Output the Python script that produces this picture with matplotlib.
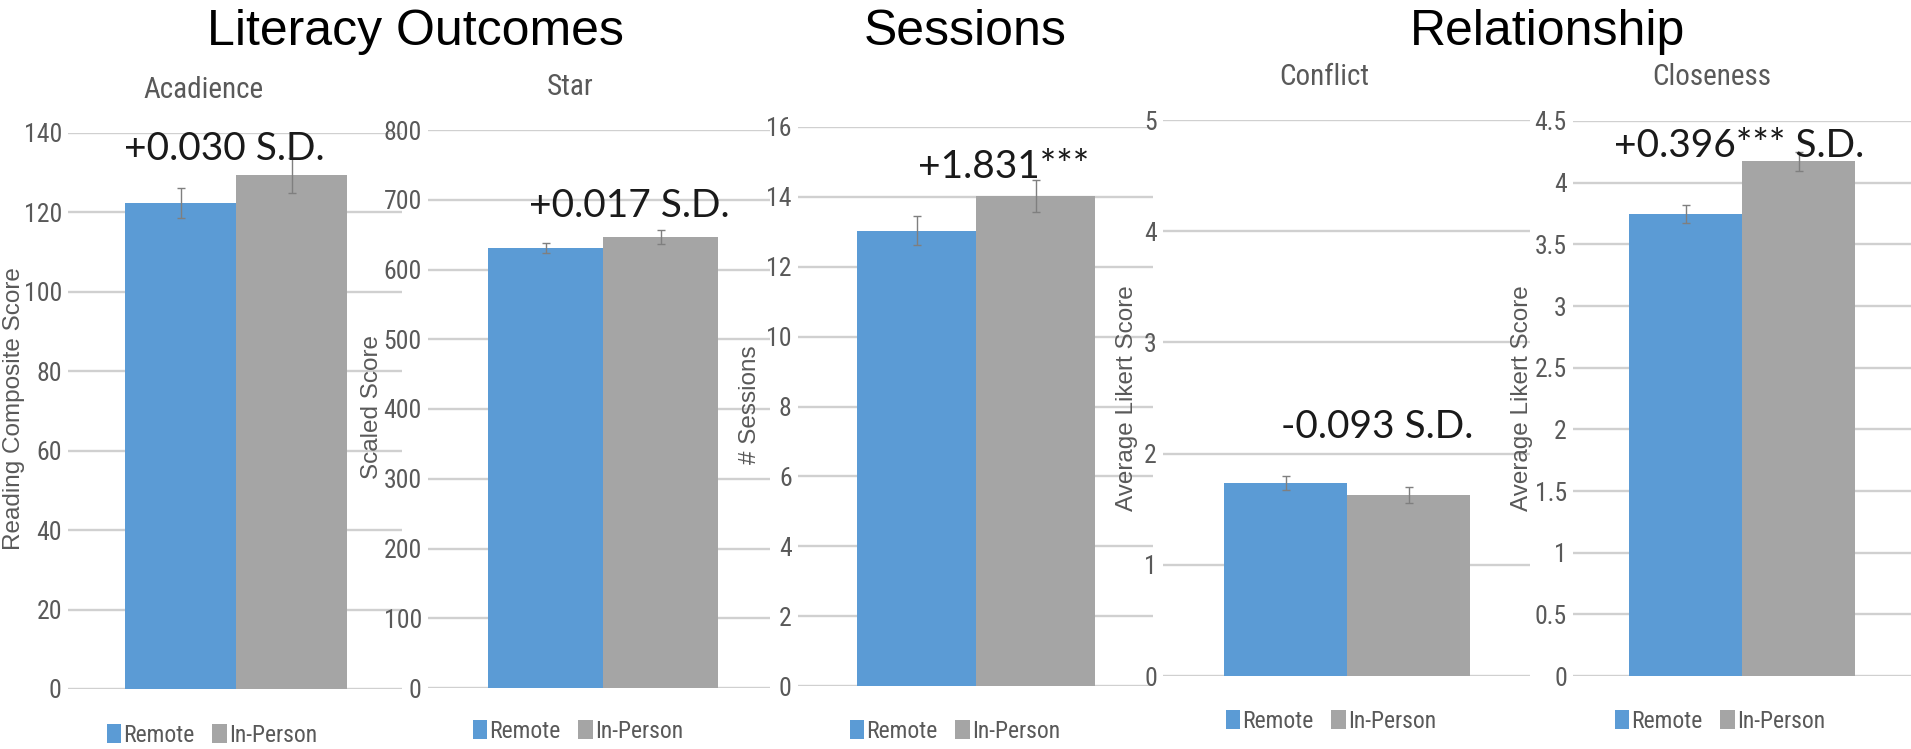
import matplotlib
matplotlib.use("Agg")
import matplotlib.pyplot as plt
from matplotlib.patches import Patch
from matplotlib.ticker import MultipleLocator, FuncFormatter
from matplotlib import font_manager as fm

# ---------------- data ----------------
groups = ["Remote", "In-Person"]
colors = ["#5B9BD5", "#A5A5A5"]

chart_titles = ["Acadience", "Star", "", "Conflict", "Closeness"]
y_labels = ["Reading Composite Score", "Scaled Score", "# Sessions",
            "Average Likert Score", "Average Likert Score"]
effects = ["+0.030 S.D.", "+0.017 S.D.", "+1.831***", "-0.093 S.D.", "+0.396*** S.D."]

acadience_means = [122.3, 129.3]
acadience_err = [3.75, 4.3]
star_means = [630.5, 646.5]
star_err = [7.5, 9.5]
sessions_means = [13.03, 14.03]
sessions_err = [0.42, 0.45]
conflict_means = [1.736, 1.628]
conflict_err = [0.065, 0.07]
closeness_means = [3.744, 4.173]
closeness_err = [0.075, 0.075]

y_max = [140, 800, 16, 5, 4.5]
y_step = [20, 100, 2, 1, 0.5]

section_headers = ["Literacy Outcomes", "Sessions", "Relationship"]

# ---------------- fonts ----------------
available = {f.name for f in fm.fontManager.ttflist}
condensed_candidates = ["Liberation Sans Narrow", "Roboto Condensed",
                        "DejaVu Sans Condensed", "Open Sans Condensed",
                        "Noto Sans Condensed", "Arial Narrow"]
NARROW_NAME = next((n for n in condensed_candidates if n in available), None)
if NARROW_NAME is None:
    NARROW = ["Liberation Sans", "DejaVu Sans"]
    narrow_scale = 0.86
else:
    NARROW = [NARROW_NAME, "DejaVu Sans"]
    narrow_scale = 1.0
REG = ["Liberation Sans", "DejaVu Sans"]
plt.rcParams["font.family"] = NARROW

# ---------------- layout (pixels) ----------------
W, H = 1911, 749
fig = plt.figure(figsize=(W / 100, H / 100), dpi=100)

ax_rects = [(68, 402, 133, 689), (428, 770, 130, 688), (798, 1153, 127, 686),
            (1163, 1530, 120, 676), (1573, 1911, 121, 676)]
bar_geo = [(125, 111), (488, 115), (857, 119), (1224, 123), (1629, 113)]
title_pos = [(203, 98), (570, 95), None, (1324, 85), (1712, 85)]
ylab_pos = [(14, 409), (372, 407), (750, 405), (1127, 398), (1522, 398)]
eff_pos = [(224, 160), (629, 217), (1004, 178), (1377, 438), (1739, 157)]
leg_pos = [(212, 735), (578, 731), (955, 731), (1331, 721), (1720, 721)]
header_pos = [(415, 45), (965, 45), (1548, 45)]

means = [acadience_means, star_means, sessions_means, conflict_means, closeness_means]
errs = [acadience_err, star_err, sessions_err, conflict_err, closeness_err]

GRID = "#d0d0d0"
TXT = "#595959"


def fx(x):
    return x / W


def fy(y):
    return 1 - y / H


for i in range(5):
    l, r, t, b = ax_rects[i]
    ax = fig.add_axes([fx(l), fy(b), (r - l) / W, (b - t) / H])
    ax.set_facecolor("none")
    bl, bw = bar_geo[i]
    c = bl + bw / 2
    ax.set_xlim((l - c) / bw, (r - c) / bw)
    ax.set_ylim(0, y_max[i])
    xs = list(range(len(groups)))
    ax.bar(xs, means[i], width=1.0, color=colors, zorder=3)
    ax.errorbar(xs, means[i], yerr=errs[i], fmt="none", ecolor="#7f7f7f",
                elinewidth=1.0, capsize=3, capthick=1.0, zorder=4)
    ax.yaxis.set_major_locator(MultipleLocator(y_step[i]))
    ax.yaxis.set_major_formatter(FuncFormatter(lambda v, p: f"{v:g}"))
    ax.grid(axis="y", color=GRID, linewidth=1.7, zorder=0)
    ax.set_axisbelow(True)
    for s in ax.spines.values():
        s.set_visible(False)
    ax.tick_params(axis="y", length=0, pad=4.5, labelsize=18.5 * narrow_scale,
                   labelcolor=TXT)
    ax.tick_params(axis="x", length=0, labelbottom=False)
    for lab in ax.get_yticklabels():
        lab.set_fontfamily(NARROW)

    if title_pos[i] is not None:
        fig.text(fx(title_pos[i][0]), fy(title_pos[i][1]), chart_titles[i],
                 ha="center", va="baseline", fontsize=21 * narrow_scale,
                 color=TXT, family=NARROW)
    fig.text(fx(ylab_pos[i][0]), fy(ylab_pos[i][1]), y_labels[i], rotation=90,
             ha="center", va="center", fontsize=17.5, color=TXT, family=REG)
    fig.text(fx(eff_pos[i][0]), fy(eff_pos[i][1]), effects[i], ha="center",
             va="baseline", fontsize=28, color="#1a1a1a", family=["Lato", "DejaVu Sans"])

    handles = [Patch(facecolor=colors[k], edgecolor="none", label=groups[k])
               for k in range(len(groups))]
    fig.legend(handles=handles, loc="center", ncol=2, frameon=False,
               bbox_to_anchor=(fx(leg_pos[i][0]), fy(leg_pos[i][1])),
               prop={"family": NARROW, "size": 17 * narrow_scale}, labelcolor=TXT,
               handlelength=0.6, handleheight=0.85, handletextpad=0.1,
               columnspacing=0.75, borderpad=0, borderaxespad=0)

for k in range(3):
    fig.text(fx(header_pos[k][0]), fy(header_pos[k][1]), section_headers[k],
             ha="center", va="baseline", fontsize=36, color="black", family=REG)

fig.savefig("out.png", dpi=100, facecolor="white")
